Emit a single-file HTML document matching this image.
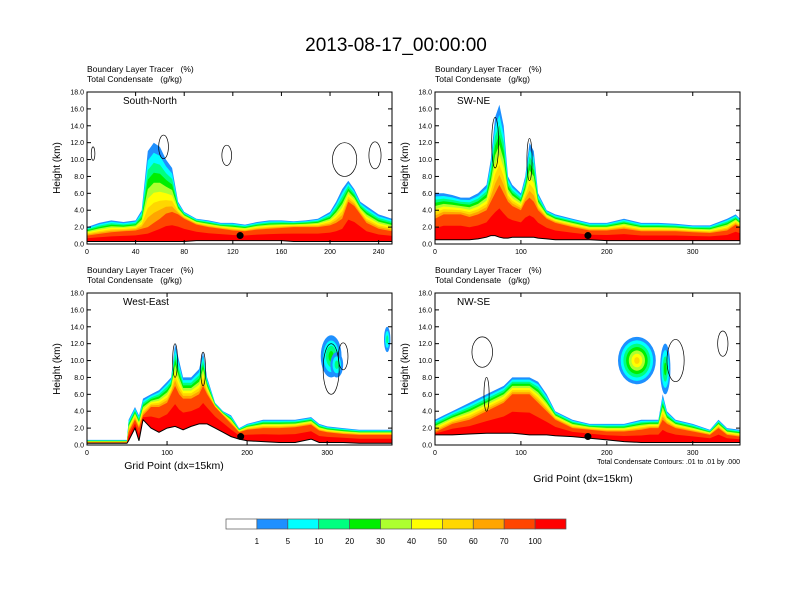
<!DOCTYPE html>
<html><head><meta charset="utf-8"><style>
body{margin:0;background:#fff;}
svg{display:block;font-family:"Liberation Sans",sans-serif;}
svg text{white-space:pre;}
</style></head><body>
<svg id="c" width="792" height="612" viewBox="0 0 792 612">
<text x="396" y="51" font-size="19" text-anchor="middle">2013-08-17_00:00:00</text>
</svg>
<script>
const levelLabels=["1","5","10","20","30","40","50","60","70","100"];
const levelColors=["#ffffff","#1e90ff","#00ffff","#00ff80","#00ee00","#adff2f","#ffff00","#ffd700","#ffa500","#ff4500","#ff0000"];
// panel data: grid x, outer top (km), red core top (km), terrain (km)
const p1x=[0,10,20,30,40,45,50,55,60,65,70,75,80,90,100,110,120,130,140,150,160,170,180,190,200,205,210,215,220,225,230,240,251];
const p1top=[2,2.5,2.8,2.6,2.8,4,11,12,11.5,10,9,5,3.8,3,2.8,2.5,2.5,2.3,2.6,2.8,2.8,2.7,2.8,3,3.8,5,6.5,7.5,6.5,5,4.5,3.5,3];
const p1red=[1,1.2,1.4,1.5,1.6,1.8,2,2.5,3,3.6,3.8,3.5,3,2.3,2,1.8,1.6,1.5,1.7,1.8,1.9,2,2,2,2.2,2.5,3,5,4.5,3.5,2.5,1.8,1.5];
const p1ter=[0.3,0.3,0.3,0.3,0.3,0.3,0.3,0.3,0.3,0.3,0.3,0.3,0.3,0.4,0.4,0.4,0.4,0.4,0.4,0.4,0.4,0.3,0.3,0.3,0.3,0.3,0.3,0.3,0.3,0.3,0.3,0.3,0.3];
const p2x=[0,10,20,30,40,50,60,65,70,75,80,85,90,100,105,110,115,120,130,140,160,180,200,220,240,260,280,300,320,340,350,355];
const p2top=[6,6,5.8,5.5,5.5,6,7,10,15,16.5,14,8,7,6,8,12,11,6,4,3.5,3,2.5,2.5,3,2.5,2.5,2.4,2.2,2.2,3,3.5,3];
const p2red=[3,3.5,3.5,3.5,3.2,3.5,4,5,6,7,6,5,4.5,4,5,5.5,5,4,3,2.5,2,1.6,1.6,1.8,1.5,1.5,1.5,1.4,1.3,1.6,2.3,2];
const p2ter=[0.5,0.5,0.5,0.5,0.5,0.6,0.8,1,1,0.8,0.7,0.7,0.8,0.8,0.8,0.8,0.8,0.7,0.6,0.5,0.5,0.5,0.4,0.4,0.4,0.4,0.4,0.4,0.4,0.4,0.4,0.4];
const p3x=[0,50,52,60,65,70,80,90,100,105,110,115,120,130,140,145,150,160,170,180,190,200,220,240,260,280,290,300,320,340,360,381];
const p3top=[0.6,0.6,3,4.5,3.5,5.5,6,6.5,7.5,8,12,10,8,8,9,11,8,5,4,3.5,2,2.5,3,3,3,3.3,2.5,2.2,2,1.8,1.8,1.8];
const p3red=[0.3,0.3,1.5,3,2,3.5,4.5,4.5,5,6,7,6,5.5,5.5,6,7,6,4.5,3.5,2.5,1.5,1.8,2,2,2.1,2.4,1.7,1.5,1.3,1.2,1.2,1.2];
const p3ter=[0.2,0.2,0.5,2,0.5,3,2,1.5,2,2.1,2.2,2,1.8,2.2,2.5,2.5,2.5,2,1.5,1,0.7,0.5,0.4,0.3,0.3,0.7,0.3,0.3,0.3,0.2,0.2,0.2];
const p4x=[0,10,20,40,60,80,90,100,110,120,130,140,160,180,200,220,240,250,260,265,270,280,300,320,330,340,355];
const p4top=[3,3.5,4,5,6,7,8,8,8,7.5,6,4,3,2.5,2.5,2.5,3,3,3,6,4,3,2.5,1.8,3,2,1.8];
const p4red=[1.5,2,2.5,3,4,5,6,6,6,5,4,3,2,1.8,1.6,1.6,1.8,2,2,3,2.5,2,1.6,1.2,2,1.2,1];
const p4ter=[1.2,1.2,1.2,1.3,1.4,1.4,1.4,1.3,1.2,1.2,1.2,1.1,1,0.8,0.6,0.4,0.3,0.3,0.3,0.3,0.3,0.3,0.3,0.3,0.3,0.3,0.3];
// upper cloud blobs: panel, x, y(km), rx(grid), ry(km), peak level
const blobP=[3,3,3,4,4];
const blobX=[305,312,375,235,268];
const blobY=[10.5,9.5,12.5,10,9];
const blobRX=[13,8,4,22,6];
const blobRY=[2.5,1.5,1.5,2.8,3];
const blobL=[4,3,3,7,4];
// condensate contour outlines: panel, x, y(km), rx(grid), ry(km)
const ctrP=[1,1,1,1,1,2,2,3,3,3,3,4,4,4,4];
const ctrX=[5,63,115,212,237,70,110,110,145,305,320,55,280,335,60];
const ctrY=[10.7,11.5,10.5,10,10.5,12,10,10,9,9,10.5,11,10,12,6];
const ctrRX=[1.5,4,4,10,5,4,3,3,3,10,6,12,10,6,3];
const ctrRY=[0.8,1.4,1.2,2,1.6,3,2.5,2,2,3,1.6,1.8,2.5,1.5,2];

const svg=document.getElementById('c');
const NS='http://www.w3.org/2000/svg';
function mk(t,a,p){const e=document.createElementNS(NS,t);for(const k in a)e.setAttribute(k,a[k]);(p||svg).appendChild(e);return e;}
const panels=[
 {x0:87,y0:92,xmax:251,xt:[0,40,80,120,160,200,240],name:"South-North",X:p1x,T:p1top,R:p1red,G:p1ter},
 {x0:435,y0:92,xmax:355,xt:[0,100,200,300],name:"SW-NE",X:p2x,T:p2top,R:p2red,G:p2ter},
 {x0:87,y0:293,xmax:381,xt:[0,100,200,300],name:"West-East",X:p3x,T:p3top,R:p3red,G:p3ter},
 {x0:435,y0:293,xmax:355,xt:[0,100,200,300],name:"NW-SE",X:p4x,T:p4top,R:p4red,G:p4ter}
];
const W=305,H=152;
panels.forEach((p,pi)=>{
  const g=mk('g',{});
  
  
  const sx=v=>p.x0+v/p.xmax*W, sy=v=>p.y0+H-v/18*H;
  const clip=mk('clipPath',{id:'cl'+pi},g);mk('rect',{x:p.x0,y:p.y0,width:W,height:H},clip);
  const f=mk('g',{'clip-path':'url(#cl'+pi+')'},g);
  for(let k=1;k<=10;k++){
    let d='M'+sx(p.X[0])+','+sy(0);
    p.X.forEach((x,i)=>{
      const h=k<10? p.R[i]+(p.T[i]-p.R[i])*(1-(k-1)/8) : p.G[i]+(p.R[i]-p.G[i])*0.55;
      d+=' L'+sx(x).toFixed(1)+','+sy(h).toFixed(1);});
    d+=' L'+sx(p.X[p.X.length-1])+','+sy(0)+' Z';
    const e=mk('path',{d:d,fill:levelColors[k]},f);
    
    
  }
  blobP.forEach((bp,i)=>{ if(bp!==pi+1)return;
    for(let k=1;k<=blobL[i];k++){const s=1-(k-1)/blobL[i];
      const e=mk('ellipse',{cx:sx(blobX[i]),cy:sy(blobY[i]),rx:blobRX[i]/p.xmax*W*s,ry:blobRY[i]/18*H*s,fill:levelColors[k]},f);
      
      }
  });
  ctrP.forEach((cp,i)=>{ if(cp!==pi+1)return;
    const e=mk('ellipse',{cx:sx(ctrX[i]),cy:sy(ctrY[i]),rx:ctrRX[i]/p.xmax*W,ry:ctrRY[i]/18*H,fill:'none',stroke:'#000','stroke-width':0.7},f);
    
    
  });
  let td='M'+sx(p.X[0])+','+sy(0);
  p.X.forEach((x,i)=>{td+=' L'+sx(x).toFixed(1)+','+sy(p.G[i]).toFixed(1);});
  const tl=td.replace(/^M[^L]*L/,'M');
  td+=' L'+sx(p.X[p.X.length-1])+','+sy(0)+' Z';
  const te=mk('path',{d:td,fill:'#fff'},f);
  
  
  mk('path',{d:tl,fill:'none',stroke:'#000','stroke-width':1},f);
  mk('rect',{x:p.x0,y:p.y0,width:W,height:H,fill:'none',stroke:'#000','stroke-width':1},g);
  for(let v=0;v<=18;v+=2){const y=sy(v);
    mk('line',{x1:p.x0,x2:p.x0+4,y1:y,y2:y,stroke:'#000'},g);mk('line',{x1:p.x0+W-4,x2:p.x0+W,y1:y,y2:y,stroke:'#000'},g);
    const t=mk('text',{x:p.x0-3,y:y+2.5,'font-size':7,'text-anchor':'end'},g);t.textContent=v.toFixed(1);
    }
  p.xt.forEach(v=>{const x=sx(v);
    mk('line',{x1:x,x2:x,y1:p.y0+H,y2:p.y0+H-4,stroke:'#000'},g);mk('line',{x1:x,x2:x,y1:p.y0,y2:p.y0+4,stroke:'#000'},g);
    const t=mk('text',{x:x,y:p.y0+H+10,'font-size':7,'text-anchor':'middle'},g);t.textContent=v;
    });
  const yt=mk('text',{x:0,y:0,'font-size':10,'text-anchor':'middle',transform:'translate('+(p.x0-27)+','+(p.y0+H/2)+') rotate(-90)'},g);yt.textContent='Height (km)';
  
  const nm=mk('text',{x:p.x0+(pi%2?22:36),y:p.y0+12,'font-size':10},g);nm.textContent=p.name;
  
  const h1=mk('text',{x:p.x0,y:p.y0-20,'font-size':8.5},g);h1.textContent='Boundary Layer Tracer   (%)';
  
  const h2=mk('text',{x:p.x0,y:p.y0-10,'font-size':8.5},g);h2.textContent='Total Condensate   (g/kg)';
  
  const dot=mk('circle',{cx:sx(pi==0?126:pi==1?178:pi==2?192:178),cy:sy(1),r:3.5,fill:'#000'},g);
  
});
let t=mk('text',{x:174,y:469,'font-size':10.5,'text-anchor':'middle'});t.textContent='Grid Point (dx=15km)';

t=mk('text',{x:583,y:482,'font-size':10.5,'text-anchor':'middle'});t.textContent='Grid Point (dx=15km)';

t=mk('text',{x:740,y:464,'font-size':7,'text-anchor':'end'});t.textContent='Total Condensate Contours: .01 to .01 by .000';

const cb=mk('g',{});
const bw=340/11;
levelColors.forEach((c,i)=>{const r=mk('rect',{x:226+i*bw,y:519,width:bw,height:10,fill:c,stroke:'#555','stroke-width':0.7},cb);
  });
levelLabels.forEach((l,i)=>{const e=mk('text',{x:226+(i+1)*bw,y:544,'font-size':8,'text-anchor':'middle'},cb);e.textContent=l;
  });
</script>
</body></html>
